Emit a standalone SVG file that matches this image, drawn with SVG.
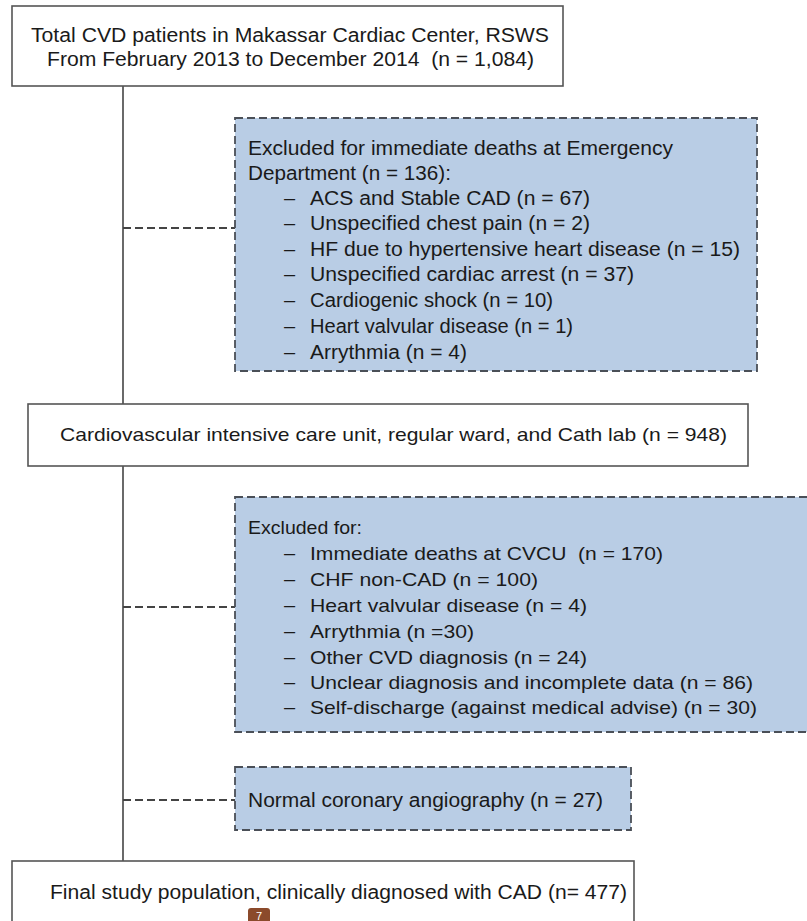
<svg xmlns="http://www.w3.org/2000/svg" width="807" height="921" viewBox="0 0 807 921">
<style>
.box{fill:#fff;stroke:#555;stroke-width:1.6}
.exc{fill:#b9cde5;stroke:#4a4f57;stroke-width:1.8;stroke-dasharray:8 4}
.con{fill:none;stroke:#444;stroke-width:1.6}
.dcon{fill:none;stroke:#444;stroke-width:1.8;stroke-dasharray:8 4}
text{font-family:"Liberation Sans",Arial,sans-serif;font-size:20px;fill:#1a1a1a}
.c{font-size:19px}
</style>
<rect width="807" height="921" fill="#fff"/>
<g id="connectors">
<line class="con" x1="123" y1="86" x2="123" y2="861"/>
<line class="dcon" x1="123" y1="228" x2="235" y2="228"/>
<line class="dcon" x1="123" y1="607" x2="235" y2="607"/>
<line class="dcon" x1="123" y1="800" x2="235" y2="800"/>
</g>
<g id="total">
<rect class="box" x="12" y="6" width="551" height="80"/>
<text x="31" y="42" textLength="518" lengthAdjust="spacingAndGlyphs">Total CVD patients in Makassar Cardiac Center, RSWS</text>
<text x="47" y="66" textLength="487" lengthAdjust="spacingAndGlyphs" xml:space="preserve">From February 2013 to December 2014  (n = 1,084)</text>
</g>
<g id="excluded1">
<rect class="exc" x="235" y="118" width="522" height="253"/>
<text x="248" y="155" textLength="425" lengthAdjust="spacingAndGlyphs">Excluded for immediate deaths at Emergency</text>
<text x="248" y="180" textLength="203" lengthAdjust="spacingAndGlyphs">Department (n = 136):</text>
<text x="284" y="205">–</text><text x="310" y="205" textLength="280" lengthAdjust="spacingAndGlyphs">ACS and Stable CAD (n = 67)</text>
<text x="284" y="230">–</text><text x="310" y="230" textLength="280" lengthAdjust="spacingAndGlyphs">Unspecified chest pain (n = 2)</text>
<text x="284" y="256">–</text><text x="310" y="256" textLength="430" lengthAdjust="spacingAndGlyphs">HF due to hypertensive heart disease (n = 15)</text>
<text x="284" y="281">–</text><text x="310" y="281" textLength="324" lengthAdjust="spacingAndGlyphs">Unspecified cardiac arrest (n = 37)</text>
<text x="284" y="307">–</text><text x="310" y="307" textLength="243" lengthAdjust="spacingAndGlyphs">Cardiogenic shock (n = 10)</text>
<text x="284" y="333">–</text><text x="310" y="333" textLength="263" lengthAdjust="spacingAndGlyphs">Heart valvular disease (n = 1)</text>
<text x="284" y="359">–</text><text x="310" y="359" textLength="157" lengthAdjust="spacingAndGlyphs">Arrythmia (n = 4)</text>
</g>
<g id="cvcu">
<rect class="box" x="28" y="404" width="720" height="62"/>
<text class="c" x="60" y="441" textLength="667" lengthAdjust="spacingAndGlyphs">Cardiovascular intensive care unit, regular ward, and Cath lab (n = 948)</text>
</g>
<g id="excluded2">
<rect class="exc" x="235" y="497" width="600" height="235"/>
<text class="c" x="248" y="534" textLength="114" lengthAdjust="spacingAndGlyphs">Excluded for:</text>
<text x="284" y="560">–</text><text class="c" x="310" y="560" textLength="353" lengthAdjust="spacingAndGlyphs" xml:space="preserve">Immediate deaths at CVCU  (n = 170)</text>
<text x="284" y="586">–</text><text class="c" x="310" y="586" textLength="228" lengthAdjust="spacingAndGlyphs">CHF non-CAD (n = 100)</text>
<text x="284" y="612">–</text><text class="c" x="310" y="612" textLength="277" lengthAdjust="spacingAndGlyphs">Heart valvular disease (n = 4)</text>
<text x="284" y="638">–</text><text class="c" x="310" y="638" textLength="164" lengthAdjust="spacingAndGlyphs">Arrythmia (n =30)</text>
<text x="284" y="664">–</text><text class="c" x="310" y="664" textLength="277" lengthAdjust="spacingAndGlyphs">Other CVD diagnosis (n = 24)</text>
<text x="284" y="689">–</text><text class="c" x="310" y="689" textLength="443" lengthAdjust="spacingAndGlyphs">Unclear diagnosis and incomplete data (n = 86)</text>
<text x="284" y="714">–</text><text class="c" x="310" y="714" textLength="447" lengthAdjust="spacingAndGlyphs">Self-discharge (against medical advise) (n = 30)</text>
</g>
<g id="normal">
<rect class="exc" x="235" y="767" width="396" height="63"/>
<text x="248" y="807" textLength="355" lengthAdjust="spacingAndGlyphs">Normal coronary angiography (n = 27)</text>
</g>
<g id="final">
<rect class="box" x="12" y="861" width="622" height="80"/>
<text x="50" y="899" textLength="577" lengthAdjust="spacingAndGlyphs">Final study population, clinically diagnosed with CAD (n= 477)</text>
</g>
<g id="badge">
<rect x="248" y="908" width="22" height="20" rx="3" fill="#8b4a2b"/>
<text x="259" y="920" text-anchor="middle" style="fill:#fff;font-size:11px">7</text>
</g>
</svg>
